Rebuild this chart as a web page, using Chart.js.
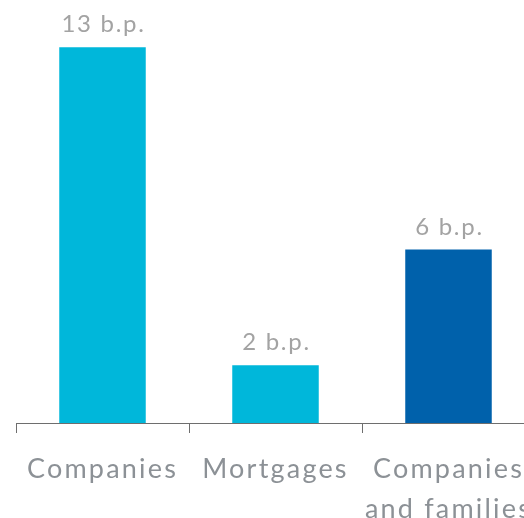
<!DOCTYPE html>
<html><head><meta charset="utf-8">
<script src="https://cdn.jsdelivr.net/npm/chart.js@4/dist/chart.umd.min.js"></script>
<style>html,body{margin:0;padding:0;overflow:hidden;background:#fff}#wrap{width:560px;height:518px;position:relative}</style>
</head><body><div id="wrap"><canvas id="c"></canvas></div>
<script>
const categories = [["Companies"], ["Mortgages"], ["Companies", "and families"]];
const values = [13, 2, 6];
const valueLabels = ["13 b.p.", "2 b.p.", "6 b.p."];
const barColors = ["#00b7da", "#00b7da", "#0061ab"];

const labelPlugin = {
  id: 'vlabels',
  afterDatasetsDraw(chart) {
    const ctx = chart.ctx;
    const meta = chart.getDatasetMeta(0);
    ctx.save();
    ctx.font = '24px Lato';
    ctx.letterSpacing = '1.7px';
    ctx.fillStyle = '#a3a3a3';
    ctx.textAlign = 'center';
    ctx.textBaseline = 'alphabetic';
    meta.data.forEach((bar, i) => {
      ctx.fillText(valueLabels[i], bar.x + 1, bar.y - 15);
    });
    ctx.restore();
  }
};
const spacingPlugin = {
  id: 'spacing',
  beforeDraw(chart) { chart.ctx.letterSpacing = '2.2px'; }
};

new Chart(document.getElementById('c'), {
  type: 'bar',
  data: { labels: categories, datasets: [{ data: values, backgroundColor: barColors, barPercentage: 0.5, categoryPercentage: 1 }] },
  options: {
    responsive: true, maintainAspectRatio: false, animation: false,
    layout: { padding: { left: 16, right: 25, top: 1, bottom: 0 } },
    plugins: { legend: { display: false }, tooltip: { enabled: false } },
    scales: {
      x: {
        afterFit: s => { s.height = 95; },
        grid: { drawOnChartArea: false, tickLength: 10, color: '#6e6e6e', lineWidth: 1 },
        border: { color: '#6e6e6e', width: 1 },
        ticks: { color: '#8c9196', font: { family: 'Lato', size: 27, lineHeight: 1.5 }, padding: 16, maxRotation: 0, autoSkip: false }
      },
      y: { display: false, min: 0, max: 14.6 }
    }
  },
  plugins: [spacingPlugin, labelPlugin]
});
</script></body></html>
